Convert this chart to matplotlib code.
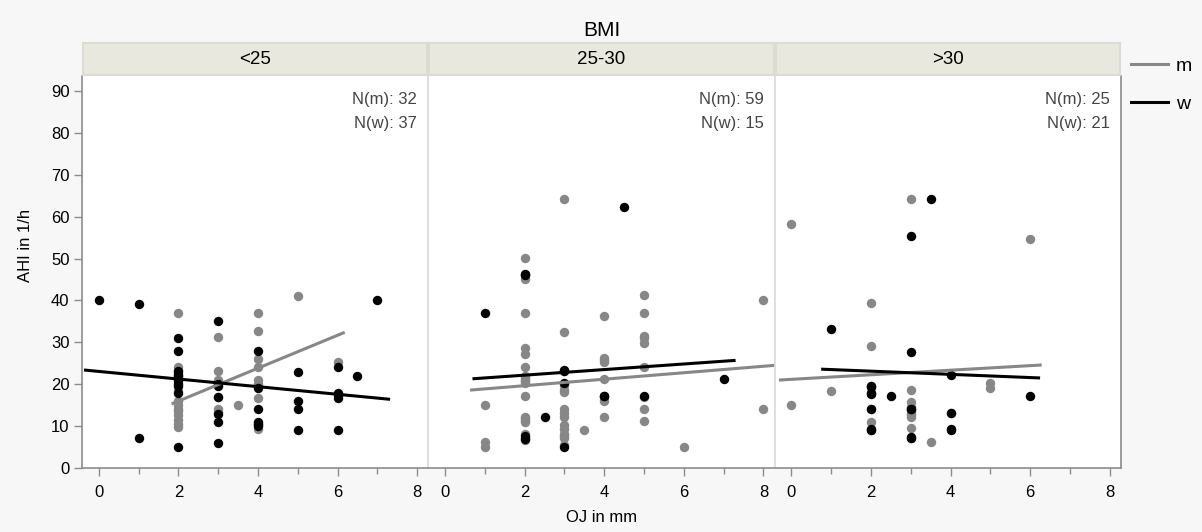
import numpy as np
import matplotlib.pyplot as plt
from matplotlib.ticker import MultipleLocator

plt.rcParams['font.family'] = ['Liberation Sans', 'DejaVu Sans']

# BMI groups
groups = ['<25', '25-30', '>30']

# OJ (mm) / AHI (1/h) per group, men (m) and women (w)
m_oj = [
    [2, 2, 2, 2, 2, 2, 2, 2, 2, 2, 2, 2, 2, 2, 3, 3, 3, 3, 3, 3, 3.5,
     4, 4, 4, 4, 4, 4, 4, 4, 4, 5, 6],
    [1, 1, 1,
     2, 2, 2, 2, 2, 2, 2, 2, 2, 2, 2, 2, 2, 2, 2, 2, 2, 2, 2, 2,
     3, 3, 3, 3, 3, 3, 3, 3, 3, 3, 3, 3, 3, 3, 3, 3.5,
     4, 4, 4, 4, 4, 4, 4, 4, 5, 5, 5, 5, 5, 5, 5, 5, 5, 6, 8, 8],
    [0, 0, 3, 6, 2, 2, 5, 5, 1, 3, 3, 3, 3, 2, 3, 3.5,
     3, 3, 2, 2, 2, 2, 3, 4, 3],
]
m_ahi = [
    [37, 24.1, 23.2, 20.8, 18.5, 16, 15, 14.2, 13.5, 12.7, 11.5, 10.6, 9.8, 22,
     31.2, 23.2, 21, 14, 13.3, 17, 15,
     37, 32.6, 26, 24, 21, 20, 16.7, 9.3, 10.5, 41, 25.2],
    [15.1, 6.2, 5.1,
     50.1, 45.1, 37.1, 28.6, 27.2, 24.2, 21.4, 20.4, 17.2, 12.2, 11, 8.2,
     22, 21, 20.8, 11.5, 12, 7.2, 6.8, 46,
     64.3, 32.5, 18.6, 14.2, 12.2, 10.2, 8.2, 7.2,
     19.8, 23.2, 13.2, 9.2, 7.6, 5.6, 18.2, 9.1,
     36.3, 26.2, 25.2, 21.3, 16, 12.2, 17, 25.8,
     41.2, 37.1, 31.4, 29.9, 24.2, 14.2, 11.2, 17, 31, 5.1, 40.1, 14.2],
    [58.3, 15.1, 64.3, 54.7, 39.3, 29.1, 20.3, 19.2, 18.4, 18.6, 15.8, 13,
     12.2, 11.1, 9.6, 6.1,
     14.5, 13.6, 17.8, 19.5, 14.2, 9.1, 7.1, 13.1, 12.6],
]
w_oj = [
    [0, 1, 1, 2, 2, 2, 2, 2, 2, 2, 2, 2, 2, 3, 3, 3, 3, 3, 3, 3,
     4, 4, 4, 4, 4, 4, 5, 5, 5, 5, 6, 6, 6, 6, 6, 6.5, 7],
    [1, 2, 2, 2, 2.5, 3, 3, 3, 4, 4.5, 5, 7, 2, 3, 4],
    [3.5, 3, 1, 3, 4, 2, 2, 2.5, 6, 3, 2, 2, 3, 4, 4,
     2, 2, 3, 3, 4, 2],
]
w_ahi = [
    [40.1, 39.2, 7.2, 31, 28, 23.2, 22, 21, 20, 18, 5, 22.5, 19.5,
     35, 20, 16.9, 13, 11, 6, 19.5,
     28, 19, 14, 11, 10, 10.5, 23, 16.1, 14, 9, 24, 18, 16.8, 9, 17.5, 22, 40.1],
    [37.1, 46.1, 7, 7.6, 12.2, 23.5, 20.2, 5.1, 17.1, 62.3, 17.1, 21.3,
     46.4, 23.2, 17.3],
    [64.3, 55.5, 33.2, 27.7, 22.1, 19.5, 17.8, 17.1, 17.1, 14.2, 14.2, 9.1,
     7.1, 13.1, 9.1,
     19.3, 9.3, 14.0, 7.3, 9.3, 17.6],
]

# fitted lines (start/end) per group
m_fit_x = [(1.83, 6.18), (0.63, 8.4), (-0.31, 6.29)]
m_fit_y = [(15.3, 32.4), (18.6, 24.6), (21.0, 24.6)]
w_fit_x = [(-0.37, 7.32), (0.69, 7.3), (0.75, 6.25)]
w_fit_y = [(23.4, 16.4), (21.3, 25.7), (23.6, 21.5)]

GRAY = '#878787'
AXIS = '#8c8c8c'
SEP = '#dcdcdc'

W, H = 1202, 532
fig = plt.figure(figsize=(W / 100, H / 100), dpi=100, facecolor='#f7f7f7')

left, pw = 82, 346.3
bottom, top, strip_h = 468, 76, 32

axes = []
for i, g in enumerate(groups):
    x0 = left + i * pw
    ax = fig.add_axes([x0 / W, 1 - bottom / H, pw / W, (bottom - top) / H])
    axes.append(ax)
    ax.set_facecolor('white')

    ax.scatter(m_oj[i], m_ahi[i], s=46, color=GRAY, linewidths=0, zorder=2)
    ax.scatter(w_oj[i], w_ahi[i], s=46, color='black', linewidths=0, zorder=3)
    ax.plot(m_fit_x[i], m_fit_y[i], color=GRAY, lw=2.2, zorder=4,
            solid_capstyle='butt')
    ax.plot(w_fit_x[i], w_fit_y[i], color='black', lw=2.2, zorder=5,
            solid_capstyle='butt')

    ax.set_xlim(-0.42, 8.28)
    ax.set_ylim(0, 93.6)
    ax.xaxis.set_major_locator(MultipleLocator(2))
    ax.xaxis.set_minor_locator(MultipleLocator(1))
    ax.yaxis.set_major_locator(MultipleLocator(10))
    ax.tick_params(axis='x', which='major', length=6, width=1, color=AXIS,
                   labelsize=12, pad=6)
    ax.tick_params(axis='x', which='minor', length=4, width=1, color=AXIS)
    ax.tick_params(axis='y', length=6, width=1, color=AXIS, labelsize=12, pad=3)

    for s in ax.spines.values():
        s.set_linewidth(1.2)
    ax.spines['top'].set_visible(False)
    ax.spines['bottom'].set_color(AXIS)
    ax.spines['left'].set_color(AXIS if i == 0 else SEP)
    ax.spines['right'].set_color(AXIS if i == len(groups) - 1 else SEP)
    if i > 0:
        ax.tick_params(axis='y', left=False, labelleft=False)

    ax.text(0.968, 0.94, f'N(m): {len(m_ahi[i])}', transform=ax.transAxes,
            ha='right', va='center', fontsize=12, color='#444444')
    ax.text(0.968, 0.878, f'N(w): {len(w_ahi[i])}', transform=ax.transAxes,
            ha='right', va='center', fontsize=12, color='#444444')

    # strip header
    sx = fig.add_axes([(x0 + 1) / W, 1 - (top - 1) / H, (pw - 2) / W, strip_h / H])
    sx.set_facecolor('#e9e8df')
    sx.set_xticks([])
    sx.set_yticks([])
    for s in sx.spines.values():
        s.set_color('#dddcd2')
        s.set_linewidth(1.5)
    sx.text(0.5, 0.48, g, transform=sx.transAxes, ha='center', va='center',
            fontsize=13.5)

fig.text((left + 1.5 * pw) / W, 1 - 31 / H, 'BMI', ha='center', va='center',
         fontsize=15)
fig.text((left + 1.5 * pw) / W, 1 - 518 / H, 'OJ in mm', ha='center',
         va='center', fontsize=12)
fig.text(26 / W, 1 - 245 / H, 'AHI in 1/h', rotation=90, ha='center',
         va='center', fontsize=12)

handles = [plt.Line2D([], [], color=GRAY, lw=2.2),
           plt.Line2D([], [], color='black', lw=2.2)]
fig.legend(handles, ['m', 'w'], loc='upper left',
           bbox_to_anchor=(1131 / W, 1 - 57 / H), frameon=False,
           fontsize=14, handlelength=1.9, handletextpad=0.4, labelspacing=1.05,
           borderaxespad=0, borderpad=0)

fig.savefig('out.png', dpi=100, facecolor=fig.get_facecolor())
